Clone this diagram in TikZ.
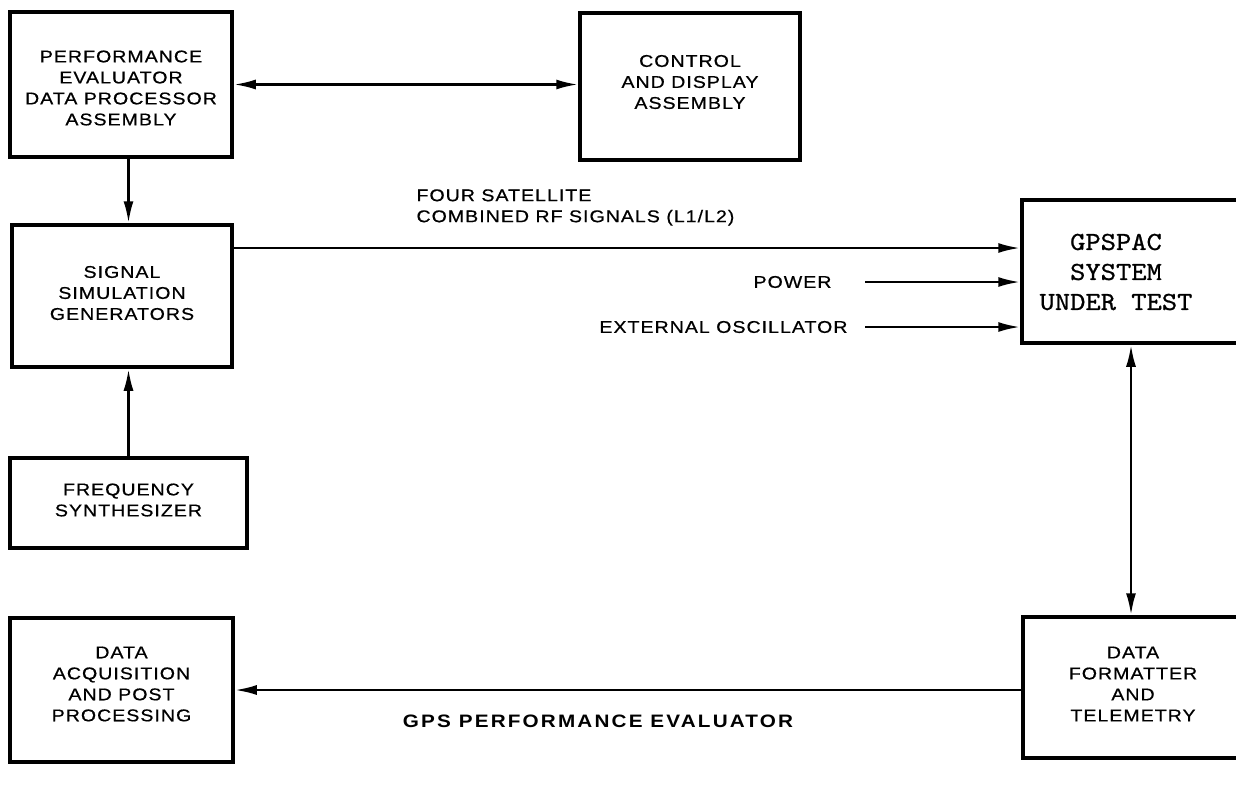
\documentclass[tikz,border=0pt]{standalone}
\usepackage{fontspec}
\usetikzlibrary{arrows.meta}
\newfontfamily\bxf{Liberation Sans}[FakeStretch=1.15,LetterSpace=6,FakeBold=0.6]
\newfontfamily\ttlf{Liberation Sans}[FakeStretch=1.15,LetterSpace=12]
\newfontfamily\twf{lmmono10-regular.otf}[FakeStretch=1.12,FakeBold=0.8]
\tikzset{
  box/.style={draw, line width=3.5pt, rectangle, inner sep=0pt},
  btext/.style={align=center, font=\bxf\fontsize{17}{21}\selectfont},
  ltext/.style={font=\bxf\fontsize{17}{21}\selectfont},
  gtext/.style={align=center, font=\twf\fontsize{26}{30}\selectfont},
  tip/.tip={Latex[length=22pt,width=10pt]},
  arr/.style={line width=2.6pt, -tip},
  biarr/.style={line width=2.6pt, tip-tip}
}
\begin{document}
\begin{tikzpicture}[x=1pt,y=-1pt]
\fill[white] (0,0) rectangle (1236,785);
\clip (0,0) rectangle (1236,785);
% boxes
\node[box, minimum width=222pt, minimum height=145pt] (pe) at (121,84.5) {};
\node[btext] (pet) at (121,88) {PERFORMANCE\\EVALUATOR\\DATA PROCESSOR\\ASSEMBLY};
\node[box, minimum width=220pt, minimum height=147pt] (cd) at (690,86.5) {};
\node[btext] (cdt) at (690,82) {CONTROL\\AND DISPLAY\\ASSEMBLY};
\node[box, minimum width=220pt, minimum height=142pt] (ssg) at (122,296) {};
\node[btext] (ssgt) at (122,293) {SIGNAL\\SIMULATION\\GENERATORS};
\node[box, minimum width=237pt, minimum height=90pt] (fs) at (128.5,503) {};
\node[btext] (fst) at (128.5,500) {FREQUENCY\\SYNTHESIZER};
\node[box, minimum width=223pt, minimum height=144pt] (da) at (121.5,690) {};
\node[btext] (dat) at (121.5,684) {DATA\\ACQUISITION\\AND POST\\PROCESSING};
\node[box, minimum width=238pt, minimum height=143pt] (gp) at (1141,271.5) {};
\node[gtext] (gpt) at (1116,272) {GPSPAC\\SYSTEM\\UNDER TEST};
\node[box, minimum width=237pt, minimum height=141pt] (df) at (1141.5,687.5) {};
\node[btext] (dft) at (1133,684) {DATA\\FORMATTER\\AND\\TELEMETRY};
% coordinates
\coordinate (rfy) at (0,248);
\coordinate (pw) at (865,282);
\coordinate (osc) at (865,327);
\coordinate (vx) at (1131,0);
% connectors
\draw[biarr] (pe.east) -- (pe.east -| cd.west);
\draw[arr] (pe.south -| fs.north) -- (ssg.north -| fs.north);
\draw[arr] (fs.north) -- (fs.north |- ssg.south);
\draw[arr] (ssg.east |- rfy) -- (gp.west |- rfy);
\draw[arr] (pw) -- (gp.west |- pw);
\draw[arr] (osc) -- (gp.west |- osc);
\draw[biarr] (gp.south -| vx) -- (df.north -| vx);
\draw[arr] (df.west |- da.east) -- (da.east);
% labels
\node[ltext, align=left, anchor=west] (rfl) at (413,207.5) {FOUR SATELLITE\\COMBINED RF SIGNALS (L1/L2)};
\node[ltext, anchor=east] (pwl) at (835,282) {POWER};
\node[ltext, anchor=east] (oscl) at (851,327) {EXTERNAL OSCILLATOR};
\node[font=\ttlf\bfseries\fontsize{18}{20}\selectfont] (title) at (598,721) {GPS PERFORMANCE EVALUATOR};
\end{tikzpicture}
\end{document}
